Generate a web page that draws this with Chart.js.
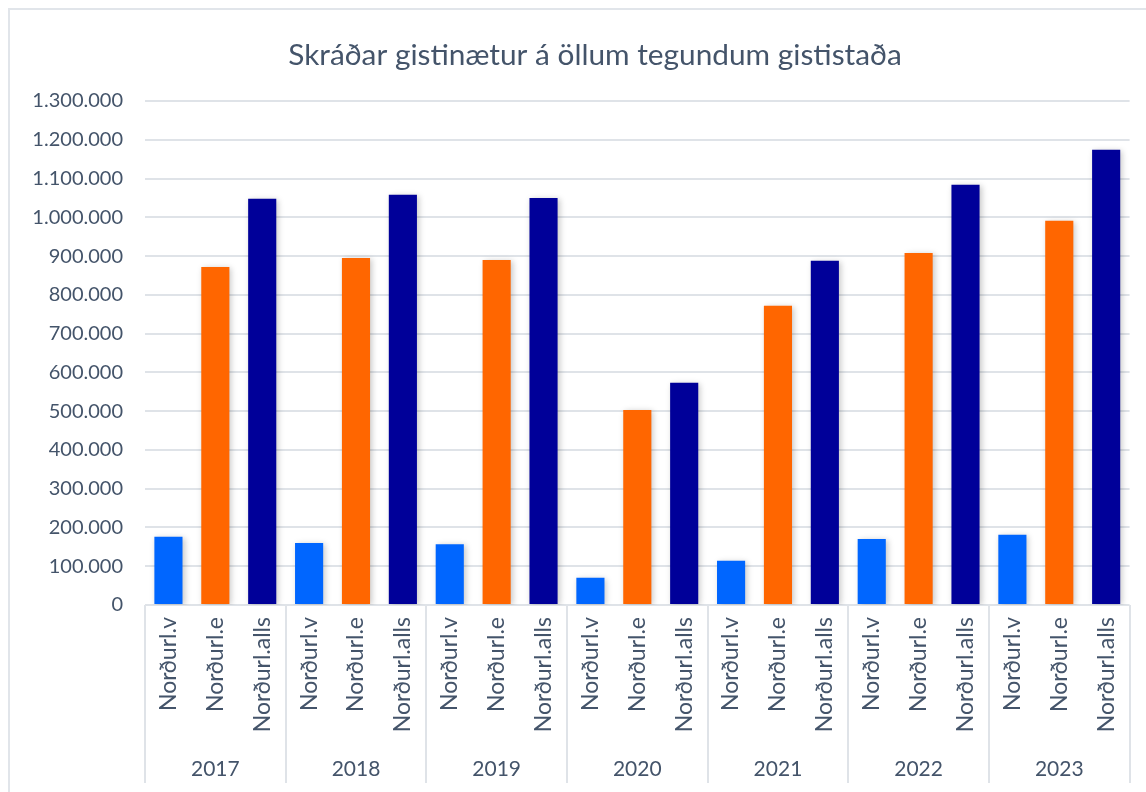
<!DOCTYPE html>
<html>
<head>
<meta charset="utf-8">
<script src="https://cdn.jsdelivr.net/npm/chart.js@4"></script>
<style>
    html, body { margin: 0; padding: 0; background: #fff; }
    #wrap { width: 1146px; height: 792px; position: relative; }
    #frame { position: absolute; left: 8px; top: 8px; right: -10px; bottom: -10px; border: 2px solid #e1e5ea; }
</style>
</head>
<body>
<div id="wrap">
    <div id="frame"></div>
    <canvas id="chart" width="1146" height="792"></canvas>
</div>
<script>
// Data
const years = ['2017', '2018', '2019', '2020', '2021', '2022', '2023'];
const regions = ['Norðurl.v', 'Norðurl.e', 'Norðurl.alls'];
const nordurlV = [176000, 160000, 157000, 70000, 114000, 170000, 181000];
const nordurlE = [872000, 895000, 890000, 503000, 772000, 908000, 991000];
const nordurlAlls = [1048000, 1058000, 1050000, 573000, 888000, 1084000, 1174000];
const regionColors = ['#0066ff', '#ff6600', '#000099'];
const titleText = 'Skráðar gistinætur á öllum tegundum gististaða';

const textColor = '#44546a';
const gridColor = '#dfe3e8';

// Flatten into one category per bar
const labels = [];
const values = [];
const colors = [];
const seriesByRegion = [nordurlV, nordurlE, nordurlAlls];
years.forEach((y, yi) => {
    regions.forEach((r, ri) => {
        labels.push(r);
        values.push(seriesByRegion[ri][yi]);
        colors.push(regionColors[ri]);
    });
});

const fmt = v => String(v).replace(/\B(?=(\d{3})+(?!\d))/g, '.');

// Soft shadow behind bars
const barShadow = {
    id: 'barShadow',
    beforeDatasetsDraw(chart) {
        const ctx = chart.ctx;
        ctx.save();
        ctx.shadowColor = 'rgba(0,0,0,0.22)';
        ctx.shadowBlur = 6;
        ctx.shadowOffsetX = 2;
        ctx.shadowOffsetY = 1;
    },
    afterDatasetsDraw(chart) {
        chart.ctx.restore();
    }
};

// Title (centred on the original frame, which is wider than the picture)
const frameTitle = {
    id: 'frameTitle',
    afterDraw(chart) {
        const ctx = chart.ctx;
        ctx.save();
        ctx.fillStyle = textColor;
        ctx.font = '29.8px Lato';
        ctx.textAlign = 'center';
        ctx.textBaseline = 'middle';
        ctx.fillText(titleText, 595, 55);
        ctx.restore();
    }
};

// Year group labels + separators under the x axis
const yearGroups = {
    id: 'yearGroups',
    afterDraw(chart) {
        const ctx = chart.ctx;
        const x = chart.scales.x;
        const area = chart.chartArea;
        const step = x.getPixelForValue(1) - x.getPixelForValue(0);
        ctx.save();
        ctx.strokeStyle = gridColor;
        ctx.lineWidth = 2;
        for (let i = 0; i <= years.length; i++) {
            const px = Math.round(x.getPixelForValue(i * 3) - step / 2);
            ctx.beginPath();
            ctx.moveTo(px, area.bottom);
            ctx.lineTo(px, 783);
            ctx.stroke();
        }
        ctx.fillStyle = textColor;
        ctx.font = '21px Lato';
        ctx.textAlign = 'center';
        ctx.textBaseline = 'middle';
        years.forEach((y, i) => {
            ctx.fillText(y, x.getPixelForValue(i * 3 + 1), 769);
        });
        ctx.restore();
    }
};

new Chart(document.getElementById('chart'), {
    type: 'bar',
    data: {
        labels: labels,
        datasets: [{
            data: values,
            backgroundColor: colors,
            borderWidth: 0,
            barPercentage: 0.6,
            categoryPercentage: 1
        }]
    },
    options: {
        responsive: false,
        animation: false,
        layout: { padding: { left: 0, right: 10, top: 101, bottom: 0 } },
        plugins: {
            legend: { display: false },
            tooltip: { enabled: false },
            title: { display: false }
        },
        scales: {
            x: {
                grid: { display: false, drawTicks: false },
                border: { display: false },
                afterFit(scale) { scale.height = 187; },
                ticks: {
                    color: textColor,
                    font: { family: 'Lato', size: 23 },
                    minRotation: 90,
                    maxRotation: 90,
                    autoSkip: false,
                    padding: 12
                }
            },
            y: {
                min: 0,
                max: 1300000,
                grid: { color: gridColor, lineWidth: 2, drawTicks: false },
                border: { display: false },
                afterFit(scale) { scale.width = 145; },
                ticks: {
                    stepSize: 100000,
                    color: textColor,
                    font: { family: 'Lato', size: 20 },
                    padding: 22,
                    callback: v => fmt(v)
                }
            }
        }
    },
    plugins: [barShadow, frameTitle, yearGroups]
});
</script>
</body>
</html>
